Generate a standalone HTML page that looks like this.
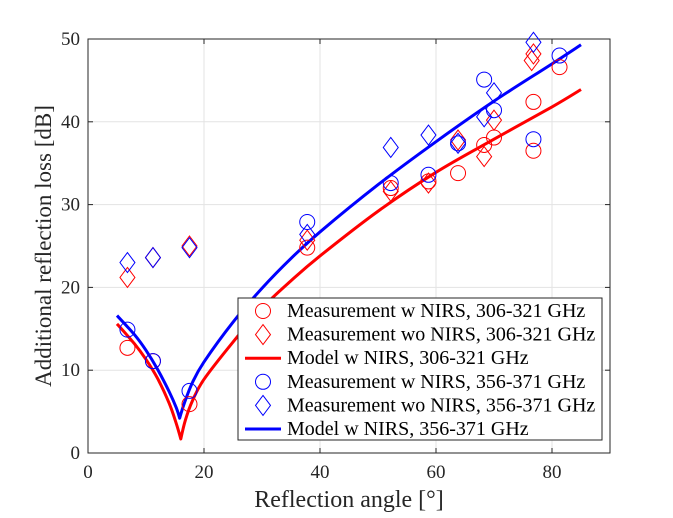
<!DOCTYPE html>
<html><head><meta charset="utf-8"><style>
html,body{margin:0;padding:0;background:#fff}
svg{display:block;font-family:"Liberation Serif",serif}
</style></head><body>
<svg id="chart" width="673" height="518" viewBox="0 0 673 518">
<rect x="88" y="39" width="522" height="414" fill="#fff" stroke="none"/>
<g id="grid"></g>
<g id="axes"></g>
<g id="series"></g>
<text x="349" y="507" text-anchor="middle" font-size="24" fill="#262626">Reflection angle [°]</text>
<text transform="translate(51,246) rotate(-90)" text-anchor="middle" font-size="23" fill="#262626">Additional reflection loss [dB]</text>
<g id="legend"></g>
</svg>
<script>
const xTicks=[0,20,40,60,80];
const yTicks=[0,10,20,30,40,50];
const redCircX=[6.8,11.2,17.5,37.8,52.2,58.7,63.8,68.3,70,76.8,76.8,81.3];
const redCircY=[12.7,11.1,5.9,24.8,32.0,32.8,33.8,37.2,38.1,42.4,36.5,46.6];
const redDiaX=[6.8,11.2,17.5,37.8,52.2,58.7,63.8,68.3,70,76.5,76.8];
const redDiaY=[21.2,23.6,25.0,25.7,31.6,32.6,37.8,35.8,40.2,47.4,48.2];
const blueCircX=[6.8,11.2,17.5,37.8,52.2,58.7,63.8,68.3,70,76.8,81.3];
const blueCircY=[14.9,11.1,7.5,27.9,32.6,33.6,37.4,45.1,41.4,37.9,48.0];
const blueDiaX=[6.8,11.2,17.5,37.8,52.2,58.7,63.8,68.3,70,76.8];
const blueDiaY=[23.0,23.6,24.8,26.4,36.9,38.4,37.4,40.6,43.5,49.6];
const redModelX=[5,8,10,12,14,15.2,16,16.8,18,20,25,30,35,40,50,60,70,80,85];
const redModelY=[15.6,13.2,11.3,9.0,6.0,3.6,1.7,4.0,6.3,8.9,13.4,17.5,20.8,23.8,29.2,33.9,37.9,41.8,43.9];
const blueModelX=[5,8,10,12,14,15.2,15.8,16.6,18,20,25,30,35,40,50,60,70,80,85];
const blueModelY=[16.6,14.3,12.4,10.1,7.4,5.5,4.2,6.0,8.5,11.0,15.8,19.9,23.5,26.7,32.4,37.6,42.5,47.0,49.3];
const labels=["Measurement w NIRS, 306-321 GHz","Measurement wo NIRS, 306-321 GHz","Model w NIRS, 306-321 GHz","Measurement w NIRS, 356-371 GHz","Measurement wo NIRS, 356-371 GHz","Model w NIRS, 356-371 GHz"];

const NS="http://www.w3.org/2000/svg";
const X0=88,X1=610,Y0=453,Y1=39;
const sx=v=>X0+(v-0)/(90-0)*(X1-X0);
const sy=v=>Y0-(v-0)/(50-0)*(Y0-Y1);
function mk(tag,attrs,parent){const e=document.createElementNS(NS,tag);for(const k in attrs)e.setAttribute(k,attrs[k]);parent.appendChild(e);return e;}
const grid=document.getElementById('grid'),axes=document.getElementById('axes'),series=document.getElementById('series'),legend=document.getElementById('legend');
xTicks.forEach(t=>{
 const g=mk('line',{x1:sx(t),x2:sx(t),y1:Y0,y2:Y1,stroke:'#e3e3e3','stroke-width':1},grid);
 
 mk('line',{x1:sx(t),x2:sx(t),y1:Y0,y2:Y0-5,stroke:'#262626'},axes);
 mk('line',{x1:sx(t),x2:sx(t),y1:Y1,y2:Y1+5,stroke:'#262626'},axes);
 const tx=mk('text',{x:sx(t),y:Y0+25,'text-anchor':'middle','font-size':19,fill:'#262626'},axes);
 tx.textContent=t;
 
});
yTicks.forEach(t=>{
 const g=mk('line',{x1:X0,x2:X1,y1:sy(t),y2:sy(t),stroke:'#e3e3e3','stroke-width':1},grid);
 
 mk('line',{x1:X0,x2:X0+5,y1:sy(t),y2:sy(t),stroke:'#262626'},axes);
 mk('line',{x1:X1,x2:X1-5,y1:sy(t),y2:sy(t),stroke:'#262626'},axes);
 const tx=mk('text',{x:X0-8,y:sy(t)+6,'text-anchor':'end','font-size':19,fill:'#262626'},axes);
 tx.textContent=t;
 
});
const frame=mk('rect',{x:X0,y:Y1,width:X1-X0,height:Y0-Y1,fill:'none',stroke:'#262626','stroke-width':1},axes);


function circle(x,y,c,parent){return mk('circle',{cx:x,cy:y,r:7.5,fill:'none',stroke:c,'stroke-width':1},parent);}
function diamond(x,y,c,parent){return mk('path',{d:`M${x},${y-10}L${x+7.5},${y}L${x},${y+10}L${x-7.5},${y}Z`,fill:'none',stroke:c,'stroke-width':1},parent);}
function line(xs,ys,c,name){
 const P=xs.map((v,i)=>[sx(v),sy(ys[i])]);
 let d='M'+P[0][0]+','+P[0][1];
 for(let i=0;i<P.length-1;i++){
  const p0=P[Math.max(i-1,0)],p1=P[i],p2=P[i+1],p3=P[Math.min(i+2,P.length-1)];
  const cusp1=(i>0)&&((p1[1]-p0[1])*(p2[1]-p1[1])<0);
  const cusp2=(i+2<P.length)&&((p2[1]-p1[1])*(p3[1]-p2[1])<0);
  const c1=cusp1?p1:[p1[0]+(p2[0]-p0[0])/6,p1[1]+(p2[1]-p0[1])/6];
  const c2=cusp2?p2:[p2[0]-(p3[0]-p1[0])/6,p2[1]-(p3[1]-p1[1])/6];
  d+=`C${c1[0]},${c1[1]} ${c2[0]},${c2[1]} ${p2[0]},${p2[1]}`;
 }
 const p=mk('path',{d:d,fill:'none',stroke:c,'stroke-width':3,'stroke-linejoin':'round'},series);
 
}
line(redModelX,redModelY,'#ff0000','model-line-306-321');
line(blueModelX,blueModelY,'#0000ff','model-line-356-371');
redCircX.forEach((v,i)=>{const e=circle(sx(v),sy(redCircY[i]),'#ff0000',series);});
redDiaX.forEach((v,i)=>{const e=diamond(sx(v),sy(redDiaY[i]),'#ff0000',series);});
blueCircX.forEach((v,i)=>{const e=circle(sx(v),sy(blueCircY[i]),'#0000ff',series);});
blueDiaX.forEach((v,i)=>{const e=diamond(sx(v),sy(blueDiaY[i]),'#0000ff',series);});

const lb=mk('rect',{x:238,y:298,width:364,height:142,fill:'#fff',stroke:'#262626','stroke-width':1},legend);

const kinds=['c','d','l','c','d','l'],cols=['#ff0000','#ff0000','#ff0000','#0000ff','#0000ff','#0000ff'];
labels.forEach((t,i)=>{
 const y=311+i*23.6;
 const g=mk('g',{},legend);
 
 if(kinds[i]=='c')circle(263,y,cols[i],g);
 else if(kinds[i]=='d')diamond(263,y,cols[i],g);
 else mk('line',{x1:245,x2:281,y1:y,y2:y,stroke:cols[i],'stroke-width':3},g);
 const tx=mk('text',{x:287,y:y+6,'font-size':20,fill:'#000'},g);
 tx.textContent=t;
});
</script>
</body></html>
